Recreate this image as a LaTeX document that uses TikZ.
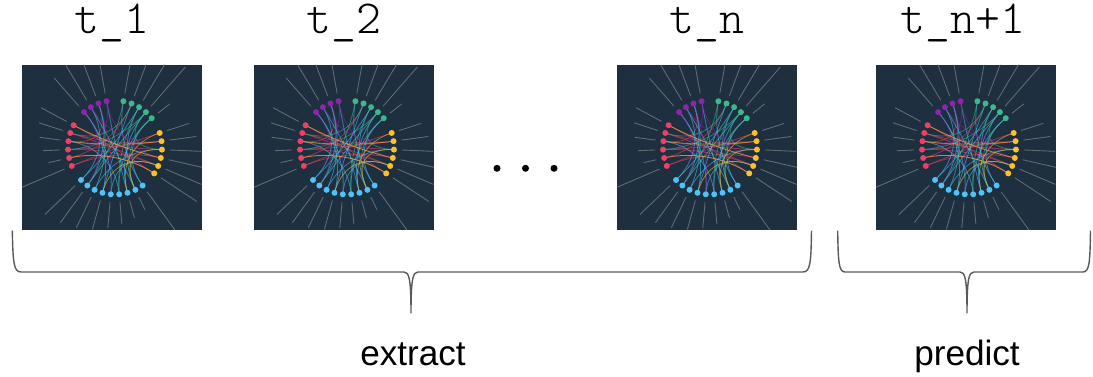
\documentclass[tikz,border=0pt]{standalone}
\usepackage{fontspec}
\setmainfont{Liberation Sans}
\newfontfamily\codefont{Latin Modern Mono Light}
\usetikzlibrary{positioning, calc}
\definecolor{panel}{RGB}{30,47,63}
\definecolor{grpP}{RGB}{142,36,170}
\definecolor{grpR}{RGB}{236,64,100}
\definecolor{grpB}{RGB}{79,195,247}
\definecolor{grpY}{RGB}{253,192,45}
\definecolor{grpG}{RGB}{60,185,140}
\definecolor{brc}{RGB}{90,90,90}

\begin{document}
\begin{tikzpicture}[
    x=0.02cm, y=-0.02cm,
    thumb/.style={rectangle, minimum width=3.6cm, minimum height=3.3cm, inner sep=0pt, fill=panel},
    tlabel/.style={anchor=base, inner sep=0pt, font=\codefont\fontsize{27}{32}\selectfont},
    caption/.style={anchor=base, inner sep=0pt, font=\fontsize{20}{24}\selectfont},
    bracket/.style={draw=brc, line width=0.8pt},
    chord/.style={line width=0.45pt, opacity=0.55},
    lbl/.style={draw=gray!70, line width=0.5pt, opacity=0.5},
    pics/wheel/.style={code={
      \begin{scope}[x=0.02cm, y=0.02cm]
        \clip (-93,-82) rectangle (87,83);
        % chords through the middle
        \foreach \s/\t/\col in {6/25/grpR, 7/24/grpR, 8/26/grpR, 9/27/grpR, 10/23/grpR, 11/28/grpR,
            7/27/grpR, 9/24/grpR, 8/2/grpR, 10/33/grpR, 6/23/grpR, 11/25/grpR,
            13/3/grpB, 14/31/grpB, 15/2/grpB, 16/33/grpB, 17/4/grpB, 18/30/grpB, 19/1/grpB,
            20/32/grpB, 21/34/grpB, 15/26/grpB, 18/8/grpB, 16/4/grpB, 19/31/grpB, 17/24/grpB,
            14/2/grpB, 20/3/grpB, 21/30/grpB, 13/32/grpB,
            1/25/grpP, 3/27/grpP, 2/17/grpP, 4/14/grpP, 1/9/grpP,
            31/9/grpG, 33/7/grpG, 30/20/grpG, 34/14/grpG, 32/18/grpG, 31/26/grpG,
            24/16/grpY, 28/19/grpY, 25/6/grpY, 23/10/grpY, 26/20/grpY, 27/8/grpY} {
          \pgfmathsetmacro\angS{90+\s*360/35}
          \pgfmathsetmacro\angT{90+\t*360/35}
          \draw[chord, \col] (\angS:47) .. controls (\angS:18) and (\angT:18) .. (\angT:47);
        }
        % label ticks and dots
        \foreach \a/\b/\col in {1/4/grpP, 6/11/grpR, 13/21/grpB, 23/28/grpY, 30/34/grpG} {
          \foreach \k in {\a,...,\b} {
            \pgfmathsetmacro\ang{90+\k*360/35}
            \pgfmathsetmacro\len{12+mod(\k*37,41)}
            \draw[lbl] (\ang:55) -- (\ang:{55+\len});
            \fill[\col] (\ang:47) circle (3);
          }
        }
      \end{scope}
    }},
]
\useasboundingbox (0,0) rectangle (1093,377);

% Frames
\node[thumb] (f1) at (112,147.5) {};
\node[thumb] (f2) at (344,147.5) {};
\node[thumb] (f3) at (707,147.5) {};
\node[thumb] (f4) at (966,147.5) {};
\foreach \f in {f1,f2,f3,f4}
  \pic at ([xshift=0.06cm]\f.center) {wheel};

% Time labels
\node[tlabel] (l1) at (112,33.5) {t\_1};
\node[tlabel] (l2) at (344,33.5) {t\_2};
\node[tlabel] (l3) at (707,33.5) {t\_n};
\node[tlabel] (l4) at (963,33.5) {t\_n+1};

% Gap
\foreach \x in {497,525.5,554}
  \fill (\x,168.3) circle (3.5);

% Braces
\coordinate (tip1) at (411,313.5);
\coordinate (tip2) at (967,313.5);
\draw[bracket] (12.3,230.7) .. controls (13,262) and (13.5,272) .. (21,272) -- (404,272)
  .. controls (409,272) and (411,278) .. (tip1) .. controls (411,278) and (413,272) .. (418,272)
  -- (803,272) .. controls (810.5,272) and (811,262) .. (811.5,230.7);
\draw[bracket] (837.7,230.7) .. controls (838.2,262) and (838.7,272) .. (845,272) -- (960,272)
  .. controls (965,272) and (967,278) .. (tip2) .. controls (967,278) and (969,272) .. (974,272)
  -- (1083,272) .. controls (1089.5,272) and (1090,262) .. (1090.5,230.7);

% Captions
\node[caption] (cap1) at (413,366) {extract};
\node[caption] (cap2) at (967,366) {predict};

\end{tikzpicture}
\end{document}
